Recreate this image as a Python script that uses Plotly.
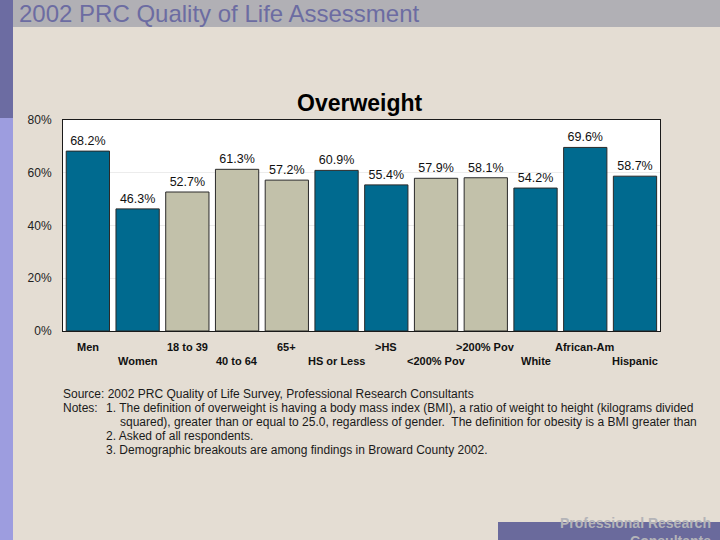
import plotly.graph_objects as go

categories = ["Men", "Women", "18 to 39", "40 to 64", "65+", "HS or Less", ">HS",
              "<200% Pov", ">200% Pov", "White", "African-Am", "Hispanic"]
values = [68.2, 46.3, 52.7, 61.3, 57.2, 60.9, 55.4, 57.9, 58.1, 54.2, 69.6, 58.7]
groups = ["sex", "sex", "age", "age", "age", "edu", "edu", "inc", "inc", "race", "race", "race"]
y_ticks = [0, 20, 40, 60, 80]
y_tick_labels = ["0%", "20%", "40%", "60%", "80%"]

TEAL = "#006a8f"
GRAY = "#c2c1aa"
group_colors = {"sex": TEAL, "age": GRAY, "edu": TEAL, "inc": GRAY, "race": TEAL}
bar_colors = [group_colors[g] for g in groups]

W, H = 720, 540
L, R, T, B = 63, 660, 120, 331  # plot area in pixels


def px(x):
    return (x - L) / (R - L)


def py(y):
    return (B - y) / (B - T)


fig = go.Figure()
fig.add_trace(go.Bar(
    x=categories, y=values,
    marker=dict(color=bar_colors, line=dict(color="#2a2a2a", width=1)),
    text=[f"{v:.1f}%" for v in values], textposition="outside",
    textfont=dict(family="Liberation Sans, Arial", size=12.5, color="#111111"),
    cliponaxis=False, hoverinfo="skip",
))

shapes = [
    dict(type="rect", xref="paper", yref="paper", x0=px(0), x1=px(13), y0=py(0), y1=py(118),
         fillcolor="#6c6ca2", line_width=0, layer="below"),
    dict(type="rect", xref="paper", yref="paper", x0=px(0), x1=px(13), y0=py(118), y1=py(540),
         fillcolor="#9d9ddf", line_width=0, layer="below"),
    dict(type="rect", xref="paper", yref="paper", x0=px(13), x1=px(720), y0=py(0), y1=py(27),
         fillcolor="#b1b0b5", line_width=0, layer="below"),
    dict(type="rect", xref="paper", yref="paper", x0=px(498), x1=px(720), y0=py(522), y1=py(540),
         fillcolor="#6a6a9c", line_width=0, layer="below"),
]

annotations = [
    dict(text="2002 PRC Quality of Life Assessment", xref="paper", yref="paper",
         x=px(17), y=py(14), xanchor="left", yanchor="middle", showarrow=False,
         font=dict(family="Liberation Sans, Arial", size=24, color="#6c6ca2")),
    dict(text="<b>Overweight</b>", xref="paper", yref="paper",
         x=px(360), y=py(103), xanchor="center", yanchor="middle", showarrow=False,
         font=dict(family="Liberation Sans, Arial", size=23, color="#000000")),
    dict(text="<b>Professional Research<br>Consultants</b>", xref="paper", yref="paper",
         x=px(713), y=py(513), xanchor="right", yanchor="top", align="right", showarrow=False,
         font=dict(family="Liberation Sans, Arial", size=14, color="#b4b4b8")),
]

for i, c in enumerate(categories):
    yy = 347 if i % 2 == 0 else 361
    annotations.append(dict(text=f"<b>{c}</b>", xref="x", yref="paper", x=c, y=py(yy),
                            xanchor="center", yanchor="middle", showarrow=False,
                            font=dict(family="Liberation Sans, Arial", size=11, color="#111111")))

note_font = dict(family="Liberation Sans Narrow, Arial Narrow, Liberation Sans", size=12, color="#1a1a1a")
notes = [
    (61, 394, "Source: 2002 PRC Quality of Life Survey, Professional Research Consultants"),
    (61, 408, "Notes:"),
    (104, 408, "1. The definition of overweight is having a body mass index (BMI), a ratio of weight to height (kilograms divided"),
    (118, 422, "squared), greater than or equal to 25.0, regardless of gender.  The definition for obesity is a BMI greater than"),
    (104, 436, "2. Asked of all respondents."),
    (104, 450, "3. Demographic breakouts are among findings in Broward County 2002."),
]
for x, y, t in notes:
    annotations.append(dict(text=t, xref="paper", yref="paper", x=px(x), y=py(y),
                            xanchor="left", yanchor="middle", showarrow=False, font=note_font))

fig.update_layout(
    width=W, height=H,
    margin=dict(l=L, r=W - R, t=T, b=H - B),
    paper_bgcolor="#e4ddd3", plot_bgcolor="#ffffff",
    showlegend=False, bargap=0.13,
    shapes=shapes, annotations=annotations,
    xaxis=dict(showticklabels=False, showgrid=False, ticks="", showline=True,
               linecolor="#1a1a1a", linewidth=1, mirror=True, zeroline=False),
    yaxis=dict(range=[0, 80], tickvals=y_ticks, ticktext=y_tick_labels, showgrid=True,
               gridcolor="#ececec", showline=True, linecolor="#1a1a1a", linewidth=1,
               mirror=True, zeroline=False, ticks="", ticklabelstandoff=8,
               tickfont=dict(family="Liberation Sans, Arial", size=12, color="#222222")),
)

fig.write_html("out.html", config={"displayModeBar": False},
               post_script="document.body.style.margin='0';document.body.style.overflow='hidden';")
